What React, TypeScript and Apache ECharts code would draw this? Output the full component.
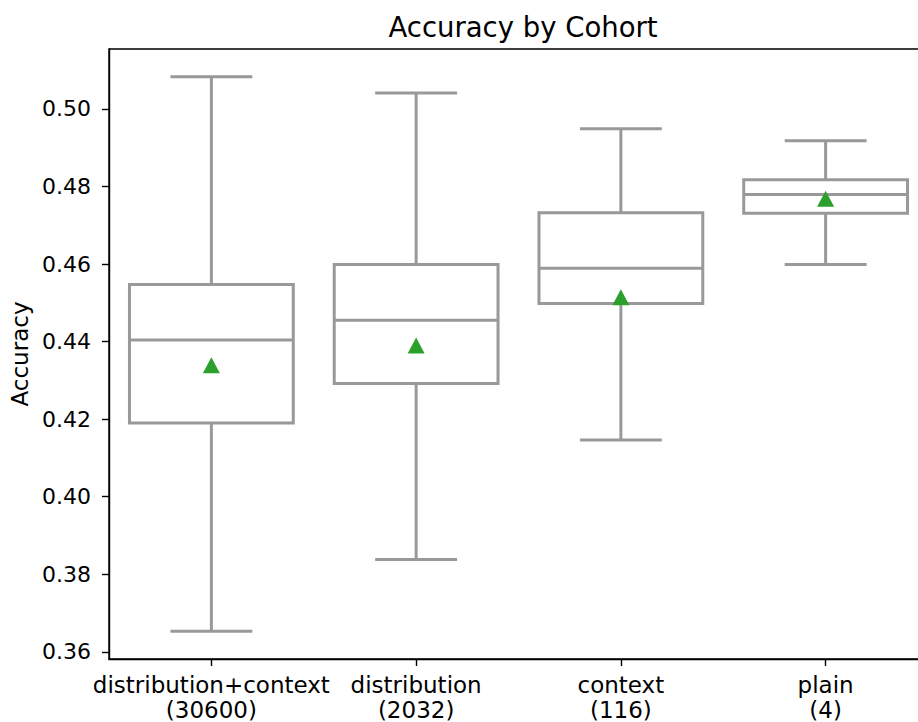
import React, { useEffect, useRef } from "react";
import * as echarts from "echarts";

const categories = ["distribution+context\n(30600)", "distribution\n(2032)", "context\n(116)", "plain\n(4)"];
const whiskerLow = [0.3653, 0.3838, 0.4146, 0.4599];
const q1 = [0.419, 0.4292, 0.4498, 0.4731];
const median = [0.4404, 0.4455, 0.4589, 0.4779];
const q3 = [0.4547, 0.4599, 0.4732, 0.4817];
const whiskerHigh = [0.5083, 0.5041, 0.4949, 0.4918];
const means = [0.4339, 0.439, 0.4514, 0.4768];
const yTicks = [0.36, 0.38, 0.4, 0.42, 0.44, 0.46, 0.48, 0.5];

const FONT = "DejaVu Sans";
const GRAY = "#999999";

export default function App() {
  const ref = useRef<HTMLDivElement>(null);
  useEffect(() => {
    if (!ref.current) return;
    const chart = echarts.init(ref.current, null, { renderer: "svg" });
    const boxData = categories.map((_, i) => [i, whiskerLow[i], q1[i], median[i], q3[i], whiskerHigh[i]]);
    chart.setOption({
      animation: false,
      backgroundColor: "#ffffff",
      title: {
        text: "Accuracy by Cohort",
        left: 518,
        textAlign: "center",
        top: 8,
        textStyle: { fontFamily: FONT, fontSize: 27.5, fontWeight: "normal", color: "#000" },
      },
      grid: {
        left: 108,
        top: 49,
        width: 820,
        height: 611,
        show: true,
        borderColor: "#000",
        borderWidth: 1.4,
        backgroundColor: "transparent",
      },
      xAxis: {
        type: "category",
        data: categories,
        boundaryGap: true,
        axisLine: { show: true, lineStyle: { color: "#000", width: 1.4 } },
        axisTick: { show: true, alignWithLabel: true, length: 7, lineStyle: { color: "#000", width: 1.4 } },
        axisLabel: { interval: 0, fontFamily: FONT, fontSize: 23, color: "#000", margin: 13, lineHeight: 25 },
        splitLine: { show: false },
      },
      yAxis: {
        type: "value",
        min: 0.35815,
        max: 0.51544,
        name: "Accuracy",
        nameLocation: "middle",
        nameRotate: 90,
        nameGap: 78,
        nameTextStyle: { fontFamily: FONT, fontSize: 23, color: "#000" },
        axisLine: { show: true, lineStyle: { color: "#000", width: 1.4 } },
        axisTick: { show: true, length: 7, customValues: yTicks, lineStyle: { color: "#000", width: 1.4 } },
        axisLabel: {
          fontFamily: FONT,
          fontSize: 22,
          color: "#000",
          margin: 18,
          customValues: yTicks,
          formatter: (v: number) => v.toFixed(2),
        },
        splitLine: { show: false },
      },
      series: [
        {
          type: "custom",
          data: boxData,
          encode: { x: 0, y: [1, 2, 3, 4, 5] },
          renderItem: (params: any, api: any) => {
            const x = api.value(0);
            const pLow = api.coord([x, api.value(1)]);
            const pQ1 = api.coord([x, api.value(2)]);
            const pMed = api.coord([x, api.value(3)]);
            const pQ3 = api.coord([x, api.value(4)]);
            const pHigh = api.coord([x, api.value(5)]);
            const bw = api.size([1, 0])[0] * 0.8;
            const cx = pMed[0];
            const style = { stroke: GRAY, lineWidth: 3, fill: null };
            return {
              type: "group",
              children: [
                { type: "rect", shape: { x: cx - bw / 2, y: pQ3[1], width: bw, height: pQ1[1] - pQ3[1] }, style: { stroke: GRAY, lineWidth: 3, fill: "#fff" } },
                { type: "line", shape: { x1: cx - bw / 2, y1: pMed[1], x2: cx + bw / 2, y2: pMed[1] }, style },
                { type: "line", shape: { x1: cx, y1: pQ3[1], x2: cx, y2: pHigh[1] }, style },
                { type: "line", shape: { x1: cx, y1: pQ1[1], x2: cx, y2: pLow[1] }, style },
                { type: "line", shape: { x1: cx - bw / 4, y1: pHigh[1], x2: cx + bw / 4, y2: pHigh[1] }, style },
                { type: "line", shape: { x1: cx - bw / 4, y1: pLow[1], x2: cx + bw / 4, y2: pLow[1] }, style },
              ],
            };
          },
          z: 2,
        },
        {
          type: "scatter",
          data: means.map((m, i) => [i, m]),
          symbol: "triangle",
          symbolSize: [17, 16],
          itemStyle: { color: "#2ca02c", opacity: 1 },
          z: 3,
        },
      ],
    });
    return () => chart.dispose();
  }, []);
  return (
    <div style={{ position: "fixed", left: 0, top: 0, width: 918, height: 722, overflow: "hidden", background: "#fff" }}>
      <div ref={ref} style={{ position: "absolute", left: 0, top: 0, width: 950, height: 722 }} />
    </div>
  );
}
